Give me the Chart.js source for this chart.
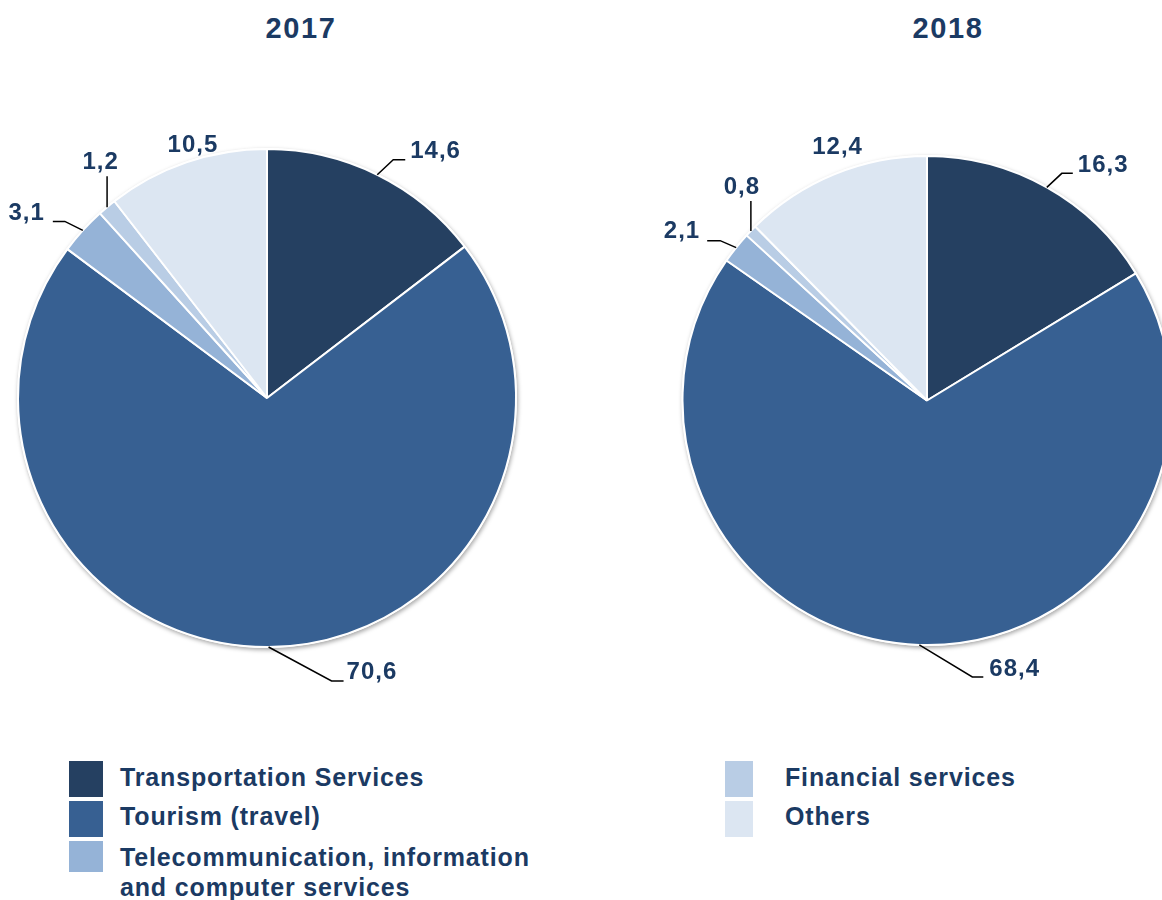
<!DOCTYPE html>
<html>
<head>
<meta charset="utf-8">
<script src="https://cdn.jsdelivr.net/npm/chart.js@4.4.1/dist/chart.umd.min.js"></script>
<style>
  html, body { margin:0; padding:0; background:#fff; width:1162px; height:900px; overflow:hidden; }
  body { position:relative; font-family:"Liberation Sans", Arial, sans-serif; color:#1b3a63; }
  canvas.c { position:absolute; left:0; top:0; }
  .title { position:absolute; width:200px; height:30px; line-height:30px; text-align:center; font-weight:bold; font-size:29px; letter-spacing:1.6px; }
  .sw { position:absolute; width:34px; height:36px; }
  .lt { position:absolute; height:30px; line-height:30px; font-weight:bold; font-size:25px; letter-spacing:0.85px; white-space:nowrap; }
</style>
</head>
<body>
<div id="titles"></div>
<div id="legend"></div>
<canvas class="c" id="c1" width="1162" height="900"></canvas>
<canvas class="c" id="c2" width="1162" height="900"></canvas>
<script>
// ---- data ----
const categories = ['Transportation Services', 'Tourism (travel)', 'Telecommunication, information and computer services', 'Financial services', 'Others'];
const years = ['2017', '2018'];
const values2017 = [14.6, 70.6, 3.1, 1.2, 10.5];
const values2018 = [16.3, 68.4, 2.1, 0.8, 12.4];

// ---- styles ----
const colors = ['#254061', '#376092', '#95b3d7', '#b9cde5', '#dce6f2'];
const textColor = '#1b3a63';

// label leader-line/offset layout relative to the slice's outer mid-point
const labelLayout2017 = [
  {line: [[16, -15], [28, -15]], text: [33, -23], align: 'left'},
  {line: [[63, 34], [75, 34]], text: [78, 25], align: 'left'},
  {line: [[-18, -9], [-30, -9]], text: [-38, -17], align: 'right'},
  {line: [[0, -31]], text: [-6.5, -45], align: 'center'},
  {line: null, text: [6.6, -17], align: 'center'}
];
const labelLayout2018 = [
  {line: [[15, -14], [26, -14]], text: [31, -22], align: 'left'},
  {line: [[53, 32], [64, 32]], text: [70, 24], align: 'left'},
  {line: [[-16, -7], [-29, -7]], text: [-36, -16], align: 'right'},
  {line: [[0, -30]], text: [-9, -44], align: 'center'},
  {line: null, text: [3.4, -27], align: 'center'}
];

function fmt(v) { return v.toFixed(1).replace('.', ','); }

const shadowPlugin = {
  id: 'pieShadow',
  beforeDatasetsDraw(chart) {
    const arc = chart.getDatasetMeta(0).data[0];
    if (!arc) return;
    const {x, y, outerRadius} = arc.getProps(['x', 'y', 'outerRadius'], true);
    const ctx = chart.ctx;
    ctx.save();
    ctx.shadowColor = 'rgba(0,0,0,0.35)';
    ctx.shadowBlur = 4;
    ctx.shadowOffsetX = 1;
    ctx.shadowOffsetY = 2;
    ctx.beginPath();
    ctx.arc(x, y, outerRadius + 1, 0, Math.PI * 2);
    ctx.fillStyle = '#ffffff';
    ctx.fill();
    ctx.restore();
  }
};

const labelPlugin = {
  id: 'pieLabels',
  afterDatasetsDraw(chart, args, opts) {
    const ctx = chart.ctx;
    const meta = chart.getDatasetMeta(0);
    const vals = chart.data.datasets[0].data;
    const layout = opts.layout;
    meta.data.forEach((arc, i) => {
      const p = arc.getProps(['x', 'y', 'startAngle', 'endAngle', 'outerRadius'], true);
      const mid = (p.startAngle + p.endAngle) / 2;
      const ax = p.x + Math.cos(mid) * p.outerRadius;
      const ay = p.y + Math.sin(mid) * p.outerRadius;
      const L = layout[i];
      ctx.save();
      if (L.line) {
        ctx.strokeStyle = '#000000';
        ctx.lineWidth = 1.5;
        ctx.beginPath();
        ctx.moveTo(ax, ay);
        L.line.forEach(pt => ctx.lineTo(ax + pt[0], ay + pt[1]));
        ctx.stroke();
      }
      ctx.fillStyle = textColor;
      ctx.font = 'bold 24px "Liberation Sans", Arial, sans-serif';
      ctx.letterSpacing = '1px';
      ctx.textAlign = L.align;
      ctx.textBaseline = 'middle';
      ctx.fillText(fmt(vals[i]), ax + L.text[0], ay + L.text[1]);
      ctx.restore();
    });
  }
};

function makePie(id, values, radius, padding, layout) {
  return new Chart(document.getElementById(id), {
    type: 'pie',
    data: {
      labels: categories,
      datasets: [{
        data: values,
        backgroundColor: colors,
        borderColor: '#ffffff',
        borderWidth: 2,
        radius: radius
      }]
    },
    options: {
      responsive: false,
      animation: false,
      events: [],
      layout: { padding: padding },
      plugins: {
        legend: { display: false },
        tooltip: { enabled: false },
        pieLabels: { layout: layout }
      }
    },
    plugins: [shadowPlugin, labelPlugin]
  });
}

makePie('c1', values2017, 249, {left: 18, right: 1162 - 516, top: 149, bottom: 900 - 647}, labelLayout2017);
makePie('c2', values2018, 244.5, {left: 692, right: 0, top: 156, bottom: 900 - 645}, labelLayout2018);

// titles
const titleCenters = [[301, 28], [948, 28]];
const tdiv = document.getElementById('titles');
years.forEach((yr, i) => {
  const d = document.createElement('div');
  d.className = 'title';
  d.textContent = yr;
  d.style.left = (titleCenters[i][0] - 100) + 'px';
  d.style.top = (titleCenters[i][1] - 15) + 'px';
  tdiv.appendChild(d);
});

// legend
const legendItems = [
  {sw: [69, 761, 34, 36], lines: [[120, 777]]},
  {sw: [69, 801, 34, 36], lines: [[120, 816]]},
  {sw: [69, 841, 34, 31], lines: [[120, 857], [120, 887]]},
  {sw: [725, 761, 28, 36], lines: [[785, 777]]},
  {sw: [725, 801, 28, 36], lines: [[785, 816]]}
];
const legendText = [
  [categories[0]],
  [categories[1]],
  ['Telecommunication, information', 'and computer services'],
  [categories[3]],
  [categories[4]]
];
const ldiv = document.getElementById('legend');
legendItems.forEach((it, i) => {
  const s = document.createElement('div');
  s.className = 'sw';
  s.style.left = it.sw[0] + 'px'; s.style.top = it.sw[1] + 'px';
  s.style.width = it.sw[2] + 'px'; s.style.height = it.sw[3] + 'px';
  s.style.background = colors[i];
  ldiv.appendChild(s);
  it.lines.forEach((ln, j) => {
    const t = document.createElement('div');
    t.className = 'lt';
    t.textContent = legendText[i][j];
    t.style.left = ln[0] + 'px';
    t.style.top = (ln[1] - 15) + 'px';
    ldiv.appendChild(t);
  });
});
</script>
</body>
</html>
